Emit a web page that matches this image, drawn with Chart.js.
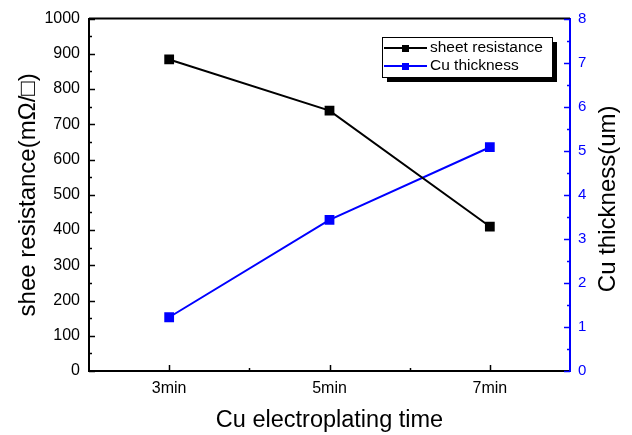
<!DOCTYPE html>
<html><head><meta charset="utf-8">
<script src="https://cdn.jsdelivr.net/npm/chart.js@4"></script>
<style>html,body{margin:0;padding:0;background:#fff}#wrap{width:632px;height:435px}</style>
</head><body><div id="wrap"><canvas id="c" width="632" height="435"></canvas></div>
<script>
const categories = ['3min', '5min', '7min'];
const sheetResistance = [884, 739, 410];
const cuThickness = [1.22, 3.43, 5.08];
const leftTicks = [0,100,200,300,400,500,600,700,800,900,1000];
const rightTicks = [0,1,2,3,4,5,6,7,8];
const rightTitle = 'Cu thickness(um)';
const FONT = "'Liberation Sans', Arial, sans-serif";
const BLUE = '#0000ff';

const frame = {
  id: 'frame',
  afterDatasetsDraw(chart) {
    const {ctx, chartArea: a, scales} = chart;
    ctx.save();
    ctx.lineWidth = 1.5;
    ctx.strokeStyle = '#000';
    const yl = scales.y;
    for (let v = 0; v <= 1000; v += 50) {
      const p = Math.round(yl.getPixelForValue(v)) + 0.5;
      const len = v % 100 === 0 ? 6 : 3;
      ctx.beginPath(); ctx.moveTo(a.left, p); ctx.lineTo(a.left + len, p); ctx.stroke();
    }
    const xs = scales.x;
    for (let i = 0; i < categories.length; i++) {
      const p = Math.round(xs.getPixelForValue(i)) + 0.5;
      ctx.beginPath(); ctx.moveTo(p, a.bottom); ctx.lineTo(p, a.bottom - 6); ctx.stroke();
      if (i < categories.length - 1) {
        const q = Math.round(xs.getPixelForValue(i + 0.5)) + 0.5;
        ctx.beginPath(); ctx.moveTo(q, a.bottom); ctx.lineTo(q, a.bottom - 3); ctx.stroke();
      }
    }
    ctx.lineWidth = 2;
    ctx.beginPath(); ctx.moveTo(a.left, a.top); ctx.lineTo(a.right, a.top); ctx.stroke();
    ctx.lineWidth = 1.5;
    ctx.strokeStyle = BLUE;
    const yr = scales.y1;
    for (let v = 0; v <= 8; v += 0.5) {
      const p = Math.round(yr.getPixelForValue(v)) + 0.5;
      const len = Number.isInteger(v) ? 6 : 3;
      ctx.beginPath(); ctx.moveTo(a.right, p); ctx.lineTo(a.right - len, p); ctx.stroke();
    }
    ctx.save();
    ctx.translate(608, (a.top + a.bottom) / 2 + 4);
    ctx.rotate(-Math.PI / 2);
    ctx.font = '24px ' + FONT;
    ctx.fillStyle = '#000';
    ctx.textAlign = 'center';
    ctx.textBaseline = 'middle';
    ctx.fillText(rightTitle, 0, 0);
    ctx.restore();
    const bx = 382, by = 37, bw = 170, bh = 40;
    ctx.fillStyle = '#000';
    ctx.fillRect(bx + 5, by + 5, bw, bh);
    ctx.fillStyle = '#fff';
    ctx.fillRect(bx, by, bw, bh);
    ctx.lineWidth = 1;
    ctx.strokeStyle = '#000';
    ctx.strokeRect(bx + 0.5, by + 0.5, bw, bh);
    const items = [
      {label: chart.data.datasets[0].label, color: '#000', y: 48},
      {label: chart.data.datasets[1].label, color: BLUE, y: 66}
    ];
    ctx.font = '15.5px ' + FONT;
    ctx.textBaseline = 'middle';
    for (const it of items) {
      ctx.strokeStyle = it.color; ctx.fillStyle = it.color; ctx.lineWidth = 2;
      ctx.beginPath(); ctx.moveTo(384, it.y); ctx.lineTo(427, it.y); ctx.stroke();
      ctx.fillRect(402, it.y - 3, 7, 7);
      ctx.fillStyle = '#000';
      ctx.fillText(it.label, 430, it.y);
    }
    ctx.restore();
  }
};

new Chart(document.getElementById('c'), {
  type: 'line',
  data: {
    labels: categories,
    datasets: [
      {label: 'sheet resistance', data: sheetResistance, yAxisID: 'y', borderColor: '#000', backgroundColor: '#000',
       borderWidth: 2, pointStyle: 'rect', pointRadius: 5.5, tension: 0},
      {label: 'Cu thickness', data: cuThickness, yAxisID: 'y1', borderColor: BLUE, backgroundColor: BLUE,
       borderWidth: 2, pointStyle: 'rect', pointRadius: 5.5, tension: 0}
    ]
  },
  options: {
    responsive: false,
    animation: false,
    devicePixelRatio: 1,
    layout: {padding: {top: 17, left: 0, right: 0, bottom: 0}},
    plugins: {legend: {display: false}, tooltip: {enabled: false}},
    scales: {
      x: {
        offset: true,
        grid: {display: false, drawTicks: false},
        border: {display: true, color: '#000', width: 2},
        ticks: {color: '#000', font: {family: FONT, size: 16}, padding: 8},
        title: {display: true, text: 'Cu electroplating time', color: '#000', font: {family: FONT, size: 23.5}, padding: {top: 10, bottom: 0}},
        afterFit(s) { s.height = 64; }
      },
      y: {
        position: 'left', min: 0, max: 1000,
        afterBuildTicks(s) { s.ticks = leftTicks.map(v => ({value: v})); },
        grid: {display: false, drawTicks: false},
        border: {display: true, color: '#000', width: 2},
        ticks: {color: '#000', font: {family: FONT, size: 16}, padding: 9, callback: v => String(v)},
        title: {display: true, text: 'shee resistance(mΩ/□)', color: '#000', font: {family: FONT, size: 24}, padding: {top: 14, bottom: 0}},
        afterFit(s) { s.width = 89; }
      },
      y1: {
        position: 'right', min: 0, max: 8,
        afterBuildTicks(s) { s.ticks = rightTicks.map(v => ({value: v})); },
        grid: {display: false, drawTicks: false},
        border: {display: true, color: BLUE, width: 2},
        ticks: {color: BLUE, font: {family: FONT, size: 15}, padding: 8, callback: v => String(v)},
        title: {display: false},
        afterFit(s) { s.width = 62; }
      }
    }
  },
  plugins: [frame]
});
</script></body></html>
